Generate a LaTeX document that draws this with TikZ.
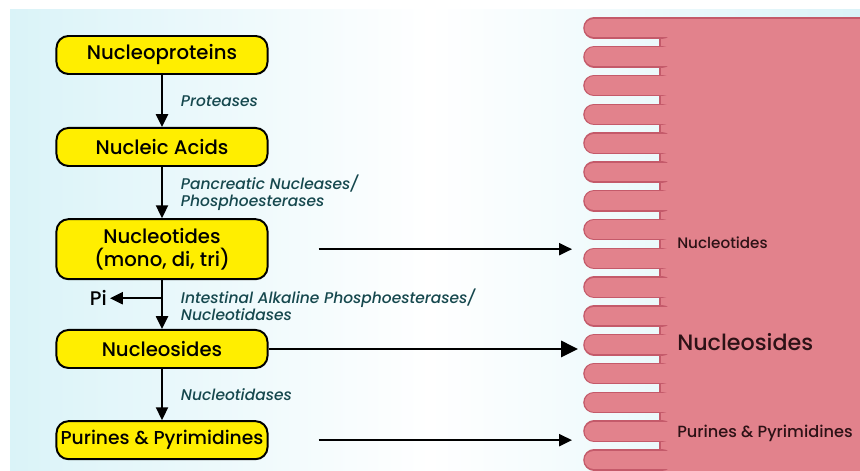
\documentclass[tikz,border=0pt]{standalone}
\usepackage{fontspec}
\setmainfont{Poppins}[UprightFont={* Medium}, ItalicFont={* Medium Italic}]
\usetikzlibrary{arrows.meta,positioning}

\definecolor{boxyellow}{RGB}{255,238,0}
\definecolor{cellpink}{RGB}{226,130,140}
\definecolor{celledge}{RGB}{196,90,106}
\definecolor{enzteal}{RGB}{22,72,78}
\definecolor{celltxt}{RGB}{45,18,22}
\definecolor{bgcyan}{RGB}{218,243,248}

\begin{document}
\begin{tikzpicture}[
    x=0.025cm, y=-0.025cm,
    font=\fontsize{14}{16}\selectfont,
    >=Triangle,
    pathbox/.style={draw, line width=1.4pt, fill=boxyellow, rounded corners=0.3cm, minimum width=5.275cm, minimum height=0.95cm, align=center, inner sep=1pt},
    enz/.style={font=\fontsize{11}{12.5}\selectfont\itshape, text=enzteal, align=left, anchor=west, inner sep=0pt},
    flow/.style={line width=1.4pt, -{Triangle[length=0.32cm, width=0.3cm]}},
    bigflow/.style={line width=2pt, -{Triangle[length=0.42cm, width=0.4cm]}},
    celllabel/.style={anchor=west, text=celltxt, inner sep=0pt}
]
\useasboundingbox (0,0) rectangle (860,471);
\shade[left color=bgcyan, right color=white] (10,10) rectangle (430,471);
\shade[left color=white, right color=bgcyan] (430,10) rectangle (860,471);

% cell with microvilli
\fill[cellpink] (660,18) rectangle (860,471);
\draw[celledge, line width=0.8pt] (660,18) -- (660,471);
\draw[celledge, line width=0.8pt] (660,18) -- (860,18);
\foreach \k in {0,...,15}{
  \draw[celledge, line width=0.54cm, line cap=round] (594,28+28.8*\k) -- (662,28+28.8*\k);
}
\foreach \k in {0,...,15}{
  \draw[cellpink, line width=0.47cm, line cap=round] (594,28+28.8*\k) -- (700,28+28.8*\k);
}

% pathway
\node[pathbox] (nprot) at (162,55) {Nucleoproteins};
\node[pathbox, below=1.3cm of nprot] (nacid) {Nucleic Acids};
\node[pathbox, minimum height=1.5cm, below=1.28cm of nacid] (ntide) {Nucleotides\\(mono, di, tri)};
\node[pathbox, below=1.22cm of ntide] (nside) {Nucleosides};
\node[pathbox, font=\fontsize{13.3}{15}\selectfont, below=1.28cm of nside] (purpyr) {Purines \& Pyrimidines};

\draw[flow] (nprot) -- (nacid) node[midway, right=0.45cm, enz] {Proteases};
\draw[flow] (nacid) -- (ntide) node[midway, right=0.45cm, enz] {Pancreatic Nucleases/\\Phosphoesterases};
\draw[flow] (ntide) -- (nside) node[midway, right=0.45cm, enz] {Intestinal Alkaline Phosphoesterases/\\Nucleotidases};
\draw[flow] (nside) -- (purpyr) node[midway, right=0.45cm, enz] {Nucleotidases};

\path (ntide.south) -- (nside.north) coordinate[pos=0.37] (pibr);
\node[left=1.3cm of pibr, inner sep=2pt] (pi) {Pi};
\draw[flow] (pibr) -- (pi.east);

% absorption
\coordinate (tip) at (572,0);
\coordinate (bigtip) at (578,0);
\draw[flow, shorten <=1.25cm] (ntide.east) -- (ntide.east -| tip);
\draw[bigflow] (nside.east) -- (nside.east -| bigtip);
\draw[flow, shorten <=1.25cm] (purpyr.east) -- (purpyr.east -| tip);

\node[celllabel, font=\fontsize{10.8}{12}\selectfont] (cnt) at (677,243) {Nucleotides};
\node[celllabel, font=\fontsize{15.8}{18}\selectfont] (cns) at (677,342) {Nucleosides};
\node[celllabel, font=\fontsize{11.5}{13}\selectfont] (cpp) at (677,433) {Purines \& Pyrimidines};
\end{tikzpicture}
\end{document}
